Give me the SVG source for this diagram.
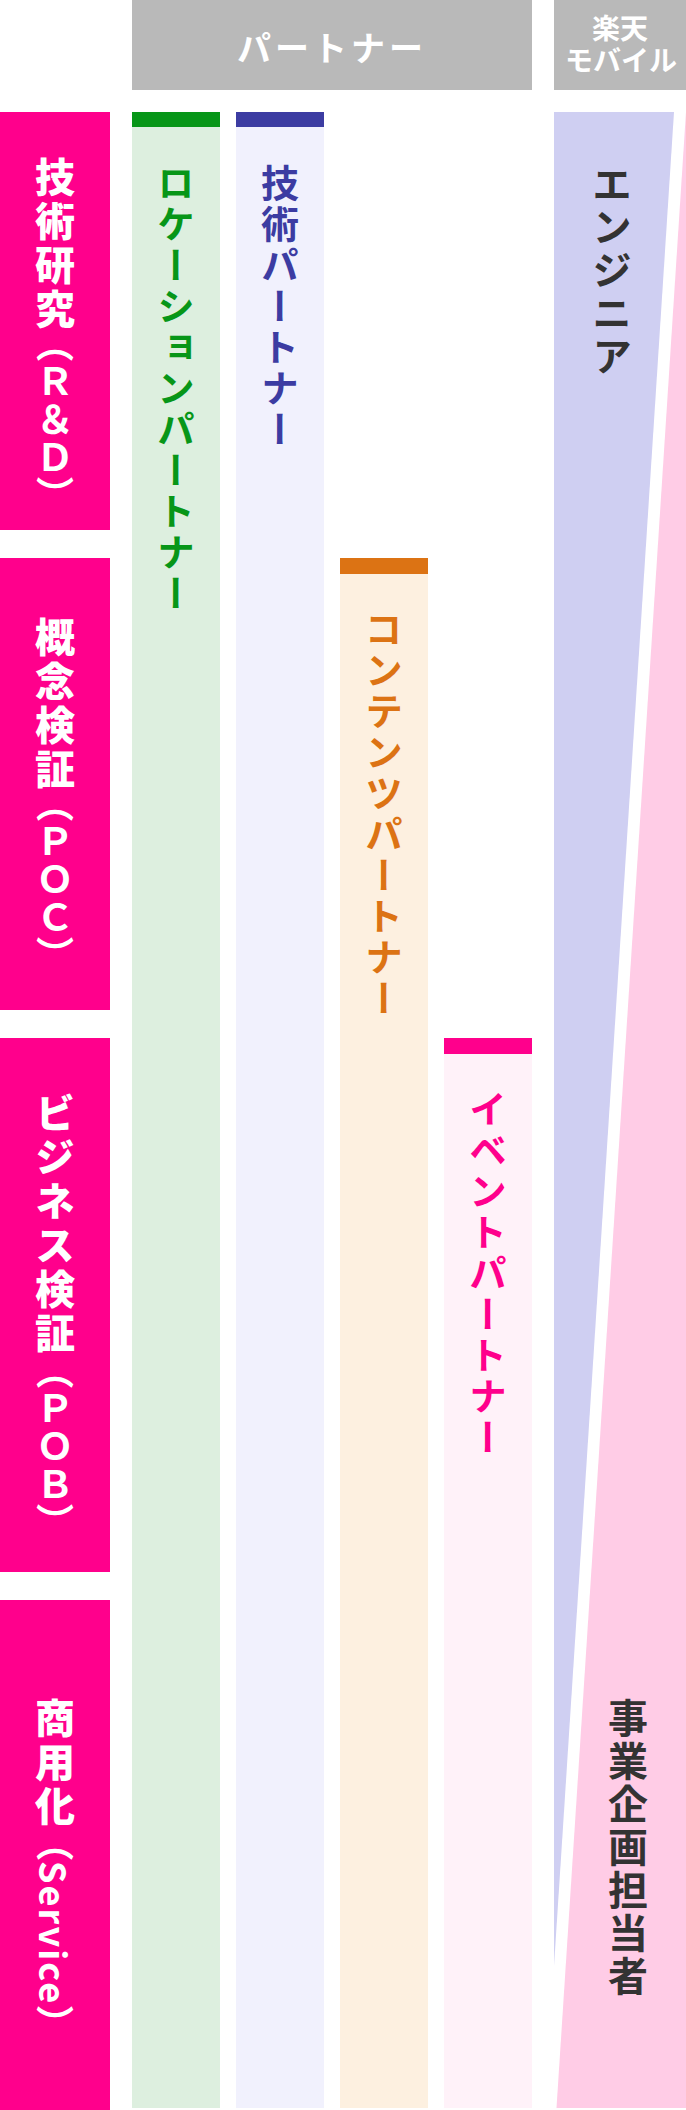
<svg xmlns="http://www.w3.org/2000/svg" width="686" height="2110" viewBox="0 0 686 2110">
<style>
.v{font-family:"Noto Sans CJK JP","Noto Sans CJK SC",sans-serif;writing-mode:vertical-rl;}
.stage{fill:#fff;font-size:40px;font-weight:900;letter-spacing:4px}
.p{font-size:38px;font-weight:700;letter-spacing:0px}
.lat{font-size:36px;font-weight:700;letter-spacing:2px}
.col{font-size:38px;font-weight:700;letter-spacing:3px}
.role{fill:#333;font-size:40px;font-weight:700;letter-spacing:3px}
.hdr{font-family:"Noto Sans CJK JP","Noto Sans CJK SC",sans-serif;fill:#fff;text-anchor:middle;dominant-baseline:central;font-weight:700}
.stbox{fill:#FF008C}
</style>
<rect width="686" height="2110" fill="#fff"/>
<g id="header-partner">
<rect x="132" y="0" width="400" height="90" fill="#B9B9B9"/>
<text class="hdr" x="332" y="46" font-size="34" letter-spacing="4">パートナー</text>
</g>
<g id="header-rakuten">
<rect x="554" y="0" width="132" height="90" fill="#B9B9B9"/>
<text class="hdr" font-size="28"><tspan x="620" y="27">楽天</tspan><tspan x="621" y="59">モバイル</tspan></text>
</g>
<g id="stage-rd">
<rect class="stbox" x="0" y="112" width="110" height="418"/>
<text class="v stage" x="55" y="157">技術研究<tspan class="p" y="324">（Ｒ＆Ｄ）</tspan></text>
</g>
<g id="stage-poc">
<rect class="stbox" x="0" y="558" width="110" height="452"/>
<text class="v stage" x="55" y="617">概念検証<tspan class="p" y="784">（ＰＯＣ）</tspan></text>
</g>
<g id="stage-pob">
<rect class="stbox" x="0" y="1038" width="110" height="534"/>
<text class="v stage" x="55" y="1093">ビジネス検証<tspan class="p" y="1351">（ＰＯＢ）</tspan></text>
</g>
<g id="stage-service">
<rect class="stbox" x="0" y="1600" width="110" height="510"/>
<text class="v stage" x="55" y="1698">商用化<tspan class="p" y="1823">（</tspan><tspan class="lat">Service</tspan><tspan class="p">）</tspan></text>
</g>
<g id="col-location">
<rect x="132" y="112" width="88" height="1996" fill="#DDEFDF"/>
<rect x="132" y="112" width="88" height="15" fill="#079618"/>
<text class="v col" x="176" y="164" fill="#079618">ロケーションパートナー</text>
</g>
<g id="col-tech">
<rect x="236" y="112" width="88" height="1996" fill="#F1F1FD"/>
<rect x="236" y="112" width="88" height="15" fill="#3C3CA2"/>
<text class="v col" x="280" y="164" fill="#3C3CA2">技術パートナー</text>
</g>
<g id="col-content">
<rect x="340" y="558" width="88" height="1550" fill="#FDF0E0"/>
<rect x="340" y="558" width="88" height="16" fill="#DC7314"/>
<text class="v col" x="384" y="610" fill="#DC7314">コンテンツパートナー</text>
</g>
<g id="col-event">
<rect x="444" y="1038" width="88" height="1070" fill="#FFF2F9"/>
<rect x="444" y="1038" width="88" height="16" fill="#FF008C"/>
<text class="v col" x="488" y="1090" fill="#FF008C">イベントパートナー</text>
</g>
<g id="role-engineer">
<polygon points="554,112 674,112 554,1966" fill="#CFCFF2"/>
<text class="v role" x="612" y="164">エンジニア</text>
</g>
<g id="role-planning">
<polygon points="686,112 686,2108 556.5,2108" fill="#FFCCE6"/>
<text class="v role" x="628" y="1698" letter-spacing="4">事業企画担当者</text>
</g>
</svg>
